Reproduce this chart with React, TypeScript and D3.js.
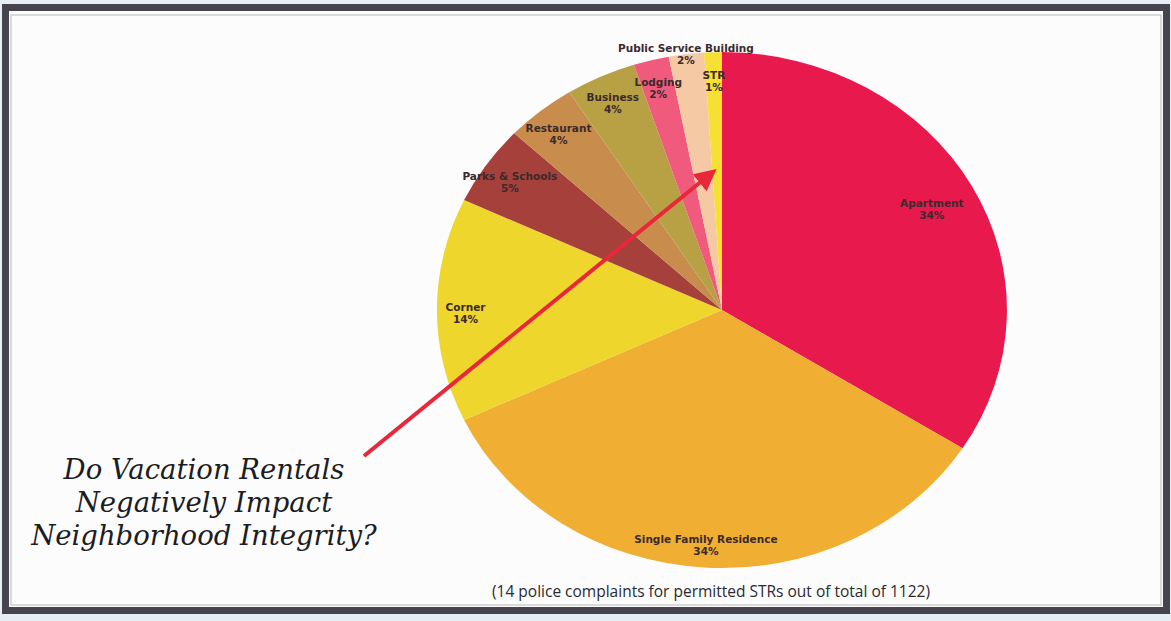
import React, { useRef, useEffect } from 'react';
import * as d3 from 'd3';

const CATEGORIES = [
  'Apartment',
  'Single Family Residence',
  'Corner',
  'Parks & Schools',
  'Restaurant',
  'Business',
  'Lodging',
  'Public Service Building',
  'STR',
];
const PERCENTS = [34, 34, 14, 5, 4, 4, 2, 2, 1];

const COLORS = [
  '#e8194c',
  '#f0ae32',
  '#efd62c',
  '#a6403a',
  '#c88c4c',
  '#b8a044',
  '#f05a7c',
  '#f5c9a4',
  '#f7e034',
];

const QUESTION_LINES = ['Do Vacation Rentals', 'Negatively Impact', 'Neighborhood Integrity?'];
const FOOTNOTE = '(14 police complaints for permitted STRs out of total of 1122)';

// label radius as fraction of the pie radius (a few labels pushed in/out like the original)
const LABEL_R: Record<string, number> = { Apartment: 0.84, 'Public Service Building': 1.01 };

const W = 1171;
const H = 621;

const App: React.FC = () => {
  const svgRef = useRef<SVGSVGElement>(null);

  useEffect(() => {
    if (!svgRef.current) return;
    const svg = d3.select(svgRef.current);
    svg.selectAll('*').remove();

    // page + frame
    svg.append('rect').attr('width', W).attr('height', H).attr('fill', '#e7eef4');
    svg.append('rect')
      .attr('x', 5.5).attr('y', 7.5).attr('width', 1161).attr('height', 603)
      .attr('fill', '#fcfcfd').attr('stroke', '#46454e').attr('stroke-width', 7);
    svg.append('rect')
      .attr('x', 11).attr('y', 15).attr('width', 1150).attr('height', 590)
      .attr('fill', 'none').attr('stroke', '#b8b8bc').attr('stroke-width', 1);

    const cx = 722;
    const cy = 310;
    const rx = 285;
    const ry = 258;

    const data = CATEGORIES.map((c, i) => ({ name: c, pct: PERCENTS[i], color: COLORS[i] }));
    const pie = d3.pie<typeof data[number]>().value(d => d.pct).sort(null);
    const arcs = pie(data);
    const arc = d3.arc<d3.PieArcDatum<typeof data[number]>>().innerRadius(0).outerRadius(1);

    // draw in unit circle, then stretch to the ellipse of the scan
    const g = svg.append('g').attr('transform', `translate(${cx},${cy}) scale(${rx},${ry})`);
    g.selectAll('path')
      .data(arcs)
      .join('path')
      .attr('d', d => arc(d)!)
      .attr('fill', d => d.data.color);

    // labels
    const lg = svg.append('g').attr('transform', `translate(${cx},${cy})`);
    arcs.forEach(d => {
      const a = (d.startAngle + d.endAngle) / 2;
      const f = LABEL_R[d.data.name] ?? 0.9;
      const x = Math.sin(a) * rx * f;
      const y = -Math.cos(a) * ry * f;
      const t = lg.append('text')
        .attr('x', x).attr('y', y + 1)
        .attr('text-anchor', 'middle')
        .attr('font-family', 'DejaVu Sans, sans-serif')
        .attr('font-weight', 'bold')
        .attr('font-size', 10.5)
        .attr('fill', '#3b2a2c');
      t.append('tspan').attr('x', x).text(d.data.name);
      t.append('tspan').attr('x', x).attr('dy', 12).text(`${d.data.pct}%`);
    });

    // arrow
    const defs = svg.append('defs');
    defs.append('marker')
      .attr('id', 'ah')
      .attr('viewBox', '0 0 10 10')
      .attr('refX', 2).attr('refY', 5)
      .attr('markerWidth', 5.5).attr('markerHeight', 5.5)
      .attr('orient', 'auto')
      .append('path').attr('d', 'M0,0 L10,5 L0,10 z').attr('fill', '#e8283a');
    svg.append('line')
      .attr('x1', 364).attr('y1', 456)
      .attr('x2', 703).attr('y2', 180)
      .attr('stroke', '#e8283a').attr('stroke-width', 4)
      .attr('marker-end', 'url(#ah)');

    // question text
    const q = svg.append('text')
      .attr('text-anchor', 'middle')
      .attr('font-family', 'DejaVu Serif, serif')
      .attr('font-style', 'italic')
      .attr('font-size', 27.5)
      .attr('fill', '#1c1c24');
    QUESTION_LINES.forEach((l, i) => {
      q.append('tspan').attr('x', 204).attr('y', 479 + i * 33).text(l);
    });

    // footnote
    svg.append('text')
      .attr('x', 711).attr('y', 597)
      .attr('text-anchor', 'middle')
      .attr('font-family', 'Open Sans, sans-serif')
      .attr('font-size', 15.5)
      .attr('fill', '#2a2a30')
      .text(FOOTNOTE);
  }, []);

  return (
    <div style={{ position: 'fixed', left: 0, top: 0 }}>
      <svg ref={svgRef} width={W} height={H} style={{ display: 'block' }} />
    </div>
  );
};

export default App;
